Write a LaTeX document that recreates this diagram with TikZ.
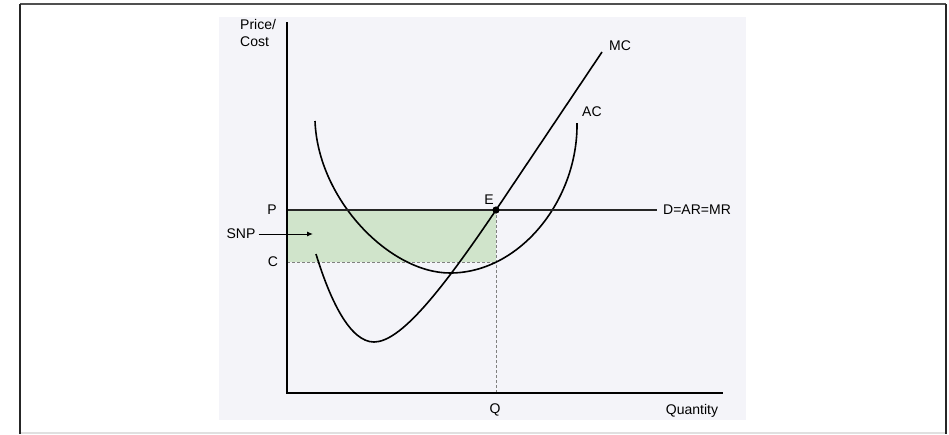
\documentclass[tikz,border=0pt]{standalone}
\usepackage{fontspec}
\setmainfont{Liberation Sans}
\usetikzlibrary{arrows.meta,positioning}
\definecolor{panelbg}{RGB}{244,244,249}
\definecolor{snpfill}{RGB}{208,228,203}
\definecolor{framegray}{RGB}{80,80,80}
\tikzset{lbl/.style={inner sep=0pt,font=\fontsize{14}{17}\selectfont},
curve/.style={line width=1.6pt,draw=black},
axis/.style={line width=2.4pt,draw=black},
guide/.style={line width=1pt,draw=gray,dash pattern=on 3pt off 2pt},
priceline/.style={line width=1.8pt,draw=black!85}}

\begin{document}
\begin{tikzpicture}[x=1pt,y=-1pt]
\useasboundingbox (0,0) rectangle (949,434);
\fill[white] (0,0) rectangle (949,434);
% outer frame and panel
\draw[framegray,line width=2pt] (20,4) -- (946,4);
\draw[black!85,line width=2pt] (20,4) -- (20,434);
\draw[black!85,line width=2pt] (946,4) -- (946,434);
\draw[black!12,line width=1.5pt] (21,433) -- (945,433);
\fill[panelbg] (219,17) rectangle (746,420);
% key points
\coordinate (O) at (287,393);
\coordinate (ytop) at (287,22);
\coordinate (xend) at (723,393);
\coordinate (P) at (287,210);
\coordinate (C) at (287,262);
\coordinate (E) at (496,210);
\coordinate (CQ) at (496,262);
\coordinate (Q) at (496,393);
\coordinate (Pend) at (657,210);
\coordinate (acmin) at (450,273);
\coordinate (mcmin) at (374,342);
% supernormal profit area
\fill[snpfill] (P) rectangle (CQ);
\draw[guide] (C) -- (CQ);
\draw[guide] (E) -- (Q);
% cost curves
\draw[curve] (315,121) .. controls (318,200) and (390,273) .. (acmin)
  .. controls (520,273) and (578,200) .. (577,123) coordinate (acend);
\draw[curve] (316,254) .. controls (330,300) and (350,342) .. (mcmin)
  .. controls (400,342) and (440,293) .. (E) -- (602,52) coordinate (mcend);
\draw[priceline] (P) -- (Pend);
\draw[axis] (ytop) -- (O) -- (xend);
\fill (E) circle (3.6pt);
% labels
\node[lbl,anchor=north west,align=left] (ylab) at (240,19) {Price/\\Cost};
\node[lbl] (plab) at (272,210) {P};
\node[lbl] (clab) at (273,262) {C};
\node[lbl] (elab) at (489,200) {E};
\node[lbl] (qlab) at (495,410) {Q};
\node[lbl] (xlab) at (692,411) {Quantity};
\node[lbl,anchor=west] (dlab) at (663,210) {D=AR=MR};
\node[lbl,anchor=west] (mclab) at (609,46) {MC};
\node[lbl,anchor=west] (aclab) at (582,112) {AC};
\node[lbl] (snp) at (241,234) {SNP};
\coordinate (snptip) at (313,234);
\draw[-{Latex[length=6pt,width=5pt]},line width=1pt,shorten <=3pt] (snp.east) -- (snptip);
\end{tikzpicture}
\end{document}
